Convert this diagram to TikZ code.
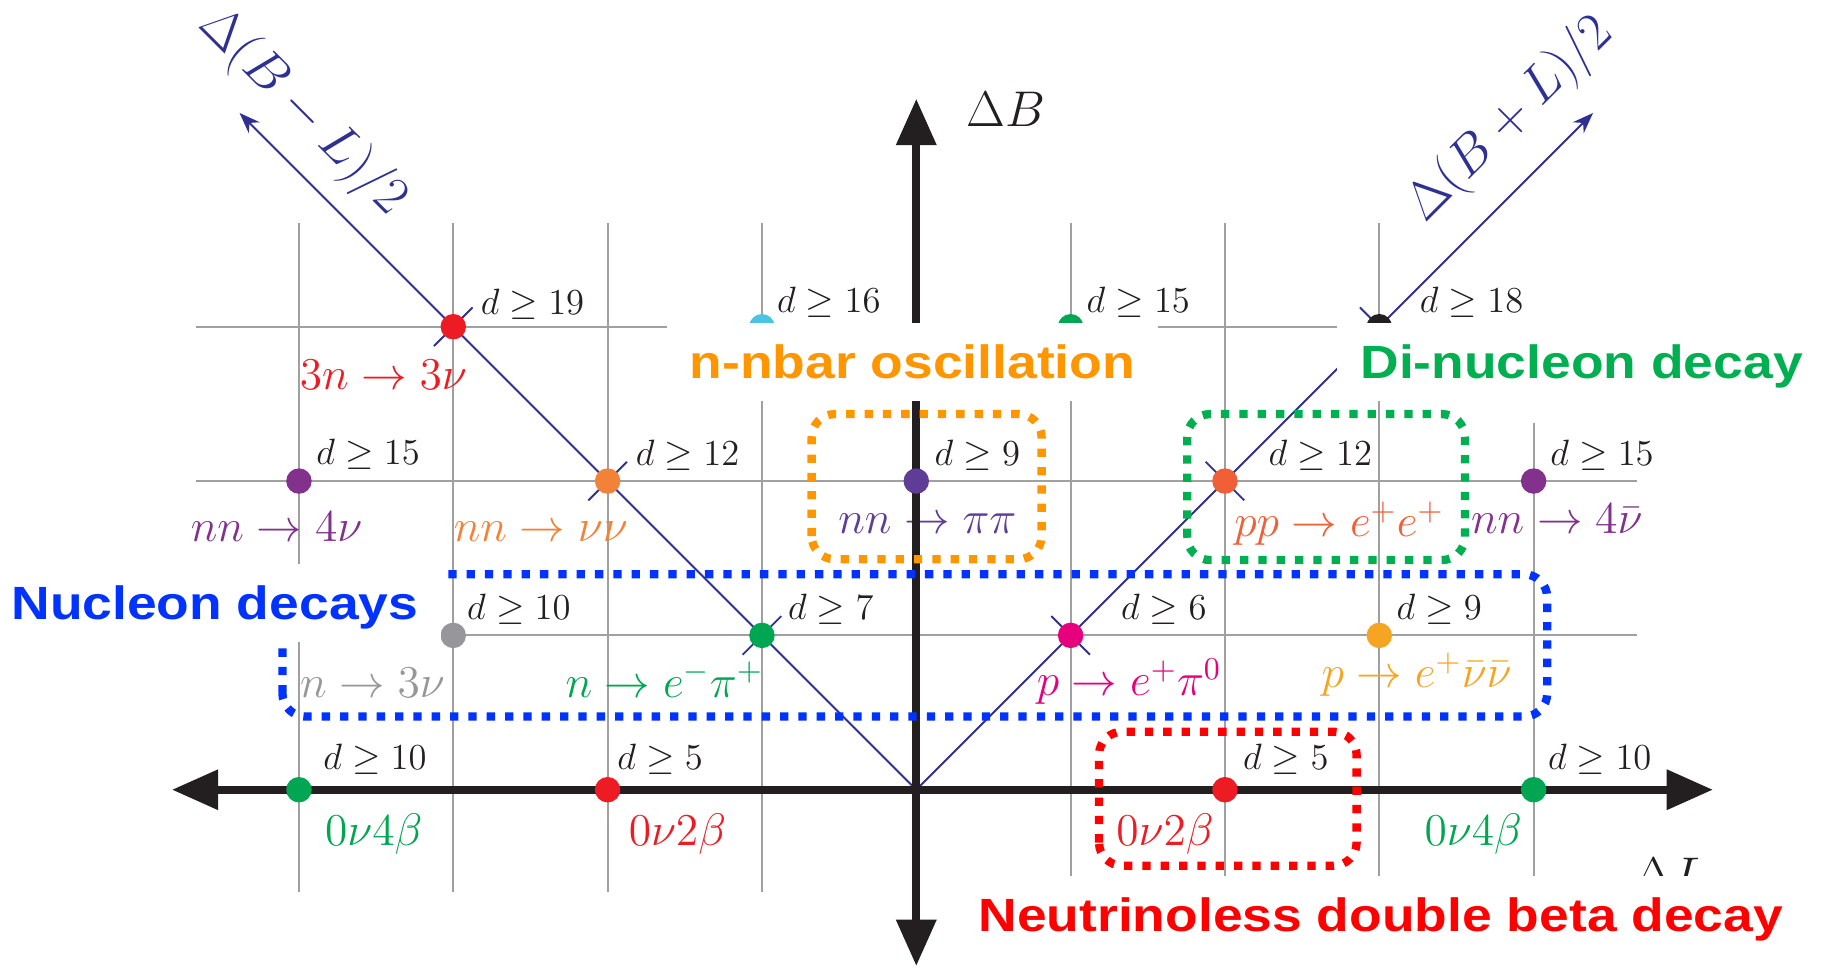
\documentclass[tikz,border=0pt]{standalone}
\usepackage{fix-cm}
\usepackage{fontspec}
\usepackage{amsmath}
\usepackage{amssymb}
\usetikzlibrary{arrows.meta}
\newfontfamily\catfont[FakeStretch=1.145]{Liberation Sans}
\definecolor{cInk}{RGB}{35,31,32}
\definecolor{cGrid}{RGB}{160,160,160}
\definecolor{cNavy}{RGB}{46,49,146}
\definecolor{cRed}{RGB}{237,28,36}
\definecolor{cGreen}{RGB}{0,166,81}
\definecolor{cCyan}{RGB}{75,195,225}
\definecolor{cPurple}{RGB}{130,50,140}
\definecolor{cOrange}{RGB}{242,130,55}
\definecolor{cIndigo}{RGB}{95,60,150}
\definecolor{cOrangeRed}{RGB}{240,95,55}
\definecolor{cGray}{RGB}{150,150,155}
\definecolor{cMagenta}{RGB}{230,0,126}
\definecolor{cAmber}{RGB}{245,165,35}
\definecolor{cBoxOrange}{RGB}{255,150,0}
\definecolor{cBoxGreen}{RGB}{0,176,80}
\definecolor{cBoxBlue}{RGB}{0,51,255}
\definecolor{cBoxRed}{RGB}{255,0,0}
\tikzset{
	gridline/.style ={draw=cGrid, line width=0.7pt},
	axisline/.style ={draw=cInk, line width=2.94pt, {Triangle[length=0.6cm, width=0.5cm]}-{Triangle[length=0.6cm, width=0.5cm]}},
	diagline/.style ={draw=cNavy, line width=0.7pt},
	diagarrow/.style={-{Stealth[length=0.27cm, width=0.2cm]}},
	dotpt/.style    ={circle, minimum size=0.33cm, inner sep=0pt},
	dlab/.style     ={anchor=base west, inner sep=0pt, text=cInk, font=\fontsize{13.5}{16}\selectfont},
	proclab/.style  ={anchor=base, inner sep=0pt, font=\fontsize{16.8}{20}\selectfont},
	axlab/.style    ={inner sep=0pt, font=\fontsize{18.5}{22}\selectfont},
	difflab/.style  ={inner sep=0pt, text=cNavy, font=\fontsize{19.6}{23}\selectfont},
	% dotted frames round the process groups
	groupbox/.style ={line width=3.06pt, dash pattern=on 3.06pt off 3.7pt, rounded corners=0.3cm},
	catlab/.style   ={anchor=base, fill=white, inner xsep=0.3cm, inner ysep=0.1cm, text height=0.62cm, text depth=0.19cm, font=\catfont\bfseries\fontsize{17.2}{20}\selectfont},
}

\begin{document}
\begin{tikzpicture}[x=2cm, y=2cm]
	\useasboundingbox (-5.937,-1.151) rectangle (5.862,5.117);
	% ---------- grid ----------
	\draw[gridline] (-4,-0.66) -- (-4,3.67);
	\draw[gridline] (-3,-0.66) -- (-3,3.67);
	\draw[gridline] (-2,-0.66) -- (-2,3.67);
	\draw[gridline] (-1,-0.66) -- (-1,3.67);
	\draw[gridline] (1,-0.66) -- (1,3.67);
	\draw[gridline] (2,-0.66) -- (2,3.67);
	\draw[gridline] (3,-0.66) -- (3,3.67);
	\draw[gridline] (4,-0.66) -- (4,2.374);
	\draw[gridline] (-4.667,1) -- (4.667,1);
	\draw[gridline] (-4.667,2) -- (4.667,2);
	\draw[gridline] (-4.667,3) -- (4.667,3);
	% ---------- B-L and B+L directions ----------
	\coordinate (O) at (0,0);
	\coordinate (BmLtip) at (-4.385,4.385);
	\coordinate (BpLtip) at (4.385,4.385);
	\draw[diagline, diagarrow] (O) -- (BmLtip);
	\draw[diagline, diagarrow] (O) -- (BpLtip);
	% small crossing ticks on the diagonals
	\draw[diagline] (-1.125,0.875) -- (-0.875,1.125);
	\draw[diagline] (-2.125,1.875) -- (-1.875,2.125);
	\draw[diagline] (-3.125,2.875) -- (-2.875,3.125);
	\draw[diagline] (1.125,0.875) -- (0.875,1.125);
	\draw[diagline] (2.125,1.875) -- (1.875,2.125);
	\draw[diagline] (3.125,2.875) -- (2.875,3.125);
	% ---------- processes ----------
	\node[proclab, text=cRed] (l3n) at (-3.453,2.59) {$3n\to3\nu$};
	\node[proclab, text=cPurple] (lnnfour) at (-4.145,1.607) {$nn\to4\nu$};
	\node[proclab, text=cOrange] (lnnnunu) at (-2.433,1.607) {$nn\to\nu\nu$};
	\node[proclab, text=cIndigo] (lnnpipi) at (0.072,1.657) {$nn\to\pi\pi$};
	\node[proclab, text=cOrangeRed] (lppee) at (2.739,1.64) {$pp\to e^+e^+$};
	\node[proclab, text=cPurple] (lnnfourbar) at (4.15,1.657) {$nn\to4\bar\nu$};
	\node[proclab, text=cGray] (lnthree) at (-3.524,0.60) {$n\to3\nu$};
	\node[proclab, text=cGreen] (lnepi) at (-1.633,0.60) {$n\to e^-\pi^+$};
	\node[proclab, text=cMagenta] (lpepi) at (1.379,0.61) {$p\to e^+\pi^0$};
	\node[proclab, text=cAmber] (lpenunu) at (3.242,0.66) {$p\to e^+\bar\nu\bar\nu$};
	\node[proclab, text=cGreen] (lfourbL) at (-3.515,-0.364) {$0\nu4\beta$};
	\node[proclab, text=cRed] (ltwobL) at (-1.548,-0.364) {$0\nu2\beta$};
	\node[proclab, text=cRed] (ltwobR) at (1.611,-0.364) {$0\nu2\beta$};
	\node[proclab, text=cGreen] (lfourbR) at (3.609,-0.364) {$0\nu4\beta$};
	% ---------- axes ----------
	\coordinate (Lneg) at (-4.823,0);
	\coordinate (Lpos) at (5.162,0);
	\coordinate (Bneg) at (0,-1.142);
	\coordinate (Bpos) at (0,4.477);
	\draw[axisline] (Lneg) -- (Lpos);
	\draw[axisline] (Bneg) -- (Bpos);
	% ---------- operators ----------
	\node[dotpt, fill=cRed] (p3n) at (-3,3) {};
	\node[dotpt, fill=cCyan] (pcyan) at (-1,3) {};
	\node[dotpt, fill=cGreen] (pgreen) at (1,3) {};
	\node[dotpt, fill=cInk] (pblack) at (3,3) {};
	\node[dotpt, fill=cPurple] (pnnfour) at (-4,2) {};
	\node[dotpt, fill=cOrange] (pnnnunu) at (-2,2) {};
	\node[dotpt, fill=cIndigo] (pnnpipi) at (0,2) {};
	\node[dotpt, fill=cOrangeRed] (pppee) at (2,2) {};
	\node[dotpt, fill=cPurple] (pnnfourbar) at (4,2) {};
	\node[dotpt, fill=cGray] (pnthree) at (-3,1) {};
	\node[dotpt, fill=cGreen] (pnepi) at (-1,1) {};
	\node[dotpt, fill=cMagenta] (ppepi) at (1,1) {};
	\node[dotpt, fill=cAmber] (ppenunu) at (3,1) {};
	\node[dotpt, fill=cGreen] (pfourbL) at (-4,0) {};
	\node[dotpt, fill=cRed] (ptwobL) at (-2,0) {};
	\node[dotpt, fill=cRed] (ptwobR) at (2,0) {};
	\node[dotpt, fill=cGreen] (pfourbR) at (4,0) {};
	% operator dimensions
	\node[dlab] (d3n) at (-2.825,3.08) {$d\geq19$};
	\node[dlab] (dcyan) at (-0.905,3.09) {$d\geq16$};
	\node[dlab] (dgreen) at (1.10,3.09) {$d\geq15$};
	\node[dlab] (dblack) at (3.26,3.09) {$d\geq18$};
	\node[dlab] (dnnfour) at (-3.89,2.108) {$d\geq15$};
	\node[dlab] (dnnnunu) at (-1.82,2.10) {$d\geq12$};
	\node[dlab] (dnnpipi) at (0.115,2.104) {$d\geq9$};
	\node[dlab] (dppee) at (2.28,2.098) {$d\geq12$};
	\node[dlab] (dnnfourbar) at (4.105,2.10) {$d\geq15$};
	\node[dlab] (dnthree) at (-2.913,1.105) {$d\geq10$};
	\node[dlab] (dnepi) at (-0.834,1.105) {$d\geq7$};
	\node[dlab] (dpepi) at (1.324,1.105) {$d\geq6$};
	\node[dlab] (dpenunu) at (3.108,1.105) {$d\geq9$};
	\node[dlab] (dfourbL) at (-3.846,0.132) {$d\geq10$};
	\node[dlab] (dtwobL) at (-1.94,0.132) {$d\geq5$};
	\node[dlab] (dtwobR) at (2.114,0.132) {$d\geq5$};
	\node[dlab] (dfourbR) at (4.09,0.132) {$d\geq10$};
	% ---------- axis labels ----------
	\node[axlab, anchor=base west, text=cInk] (labB) at (0.324,4.30) {$\Delta B$};
	\node[axlab, anchor=base, text=cInk] (labL) at (4.889,-0.663) {$\Delta L$};
	\node[difflab, rotate=-45] (labBmL) at (-3.975,4.39) {$\Delta(B-L)/2$};
	\node[difflab, rotate=45] (labBpL) at (3.85,4.34) {$\Delta(B+L)/2$};
	% ---------- groups ----------
	\draw[groupbox, draw=cBoxOrange] (-0.678,1.493) rectangle (0.812,2.434);
	\draw[groupbox, draw=cBoxGreen] (1.755,1.488) rectangle (3.555,2.434);
	\draw[groupbox, draw=cBoxBlue] (-4.107,0.474) rectangle (4.088,1.396);
	\draw[groupbox, draw=cBoxRed] (1.184,-0.492) rectangle (2.853,0.376);
	\node[catlab, text=cBoxOrange] (nnbar) at (-0.025,2.662) {n-nbar oscillation};
	\node[catlab, text=cBoxGreen] (dinuc) at (4.311,2.662) {Di-nucleon decay};
	\node[catlab, text=cBoxBlue] (nucdec) at (-4.545,1.10) {Nucleon decays};
	\node[catlab, text=cBoxRed] (zeronu) at (3.01,-0.92) {Neutrinoless double beta decay};
\end{tikzpicture}
\end{document}
